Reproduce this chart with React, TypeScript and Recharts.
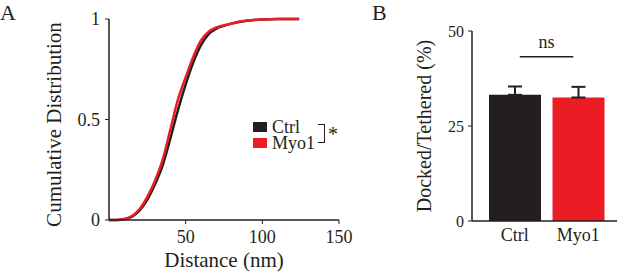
import React from 'react';
import {
  LineChart,
  Line,
  BarChart,
  Bar,
  Cell,
  ErrorBar,
  XAxis,
  YAxis,
  Legend,
  ReferenceLine,
} from 'recharts';

// Panel A: cumulative distribution of vesicle distance
const distanceNm = [0, 5, 10, 15, 20, 25, 30, 35, 40, 45, 50, 55, 60, 65, 70, 75, 80, 90, 100, 110, 124];
const ctrlCdf = [0, 0, 0.004, 0.017, 0.048, 0.102, 0.178, 0.272, 0.405, 0.548, 0.675, 0.785, 0.87, 0.925, 0.952, 0.966, 0.977, 0.991, 0.998, 1, 1];
const myo1Cdf = [0, 0, 0.005, 0.02, 0.055, 0.115, 0.195, 0.3, 0.45, 0.6, 0.71, 0.812, 0.893, 0.937, 0.958, 0.969, 0.978, 0.992, 0.998, 1, 1];
const xTicksA = [50, 100, 150];
const yTicksA = [0, 0.5, 1];

// Panel B: docked / tethered ratio
const groups = ['Ctrl', 'Myo1'];
const dockedMean = [33.2, 32.5];
const dockedSem = [2.2, 2.8];
const yTicksB = [0, 25, 50];
const nsLevel = 43.2;

const BLACK = '#231f20';
const RED = '#ec1c24';
const FONT = '"Liberation Serif", "Times New Roman", serif';

const cdfData = distanceNm.map((d, i) => ({ d, ctrl: ctrlCdf[i], myo1: myo1Cdf[i] }));
// upper half of the SEM only, as in the figure
const barData = groups.map((g, i) => ({ group: g, mean: dockedMean[i], sem: [0, dockedSem[i]] }));
const barColors = [BLACK, RED];

const axisLine = { stroke: BLACK, strokeWidth: 1.5 };

const renderLegend = (props: any) => {
  const payload = props.payload || [];
  return (
    <div style={{ position: 'relative', fontFamily: FONT, fontSize: 18, color: BLACK, width: 100 }}>
      {payload.map((entry: any) => (
        <div key={entry.value} style={{ display: 'flex', alignItems: 'center', height: 16, lineHeight: '16px' }}>
          <span style={{ display: 'inline-block', width: 14, height: 10, background: entry.color, marginRight: 5 }} />
          <span>{entry.value}</span>
        </div>
      ))}
      <div
        style={{
          position: 'absolute',
          left: 65,
          top: 5,
          width: 6,
          height: 17,
          borderTop: `1.5px solid ${BLACK}`,
          borderRight: `1.5px solid ${BLACK}`,
          borderBottom: `1.5px solid ${BLACK}`,
        }}
      />
      <span style={{ position: 'absolute', left: 75, top: 5, fontSize: 20, lineHeight: '20px' }}>*</span>
    </div>
  );
};

const panelLetter = (letter: string, left: number) => (
  <div
    style={{
      position: 'absolute',
      left,
      top: 2,
      fontFamily: FONT,
      fontSize: 22,
      lineHeight: '22px',
      color: BLACK,
    }}
  >
    {letter}
  </div>
);

export default function App() {
  return (
    <div style={{ position: 'absolute', left: 0, top: 0, width: 617, height: 272, background: '#fff', overflow: 'hidden' }}>
      {panelLetter('A', 0)}
      {panelLetter('B', 372)}

      <div style={{ position: 'absolute', left: 0, top: 0 }}>
        <LineChart width={360} height={272} data={cdfData} margin={{ top: 19, right: 21, bottom: 22, left: 49 }}>
          <XAxis
            dataKey="d"
            type="number"
            domain={[0, 150]}
            ticks={xTicksA}
            height={30}
            axisLine={axisLine}
            tickLine={{ stroke: BLACK }}
            tickSize={4}
            tickMargin={6}
            tick={{ fill: BLACK, fontSize: 18, fontFamily: FONT }}
            label={{ value: 'Distance (nm)', position: 'bottom', offset: 2, fill: BLACK, fontSize: 21, fontFamily: FONT }}
          />
          <YAxis
            type="number"
            domain={[0, 1]}
            ticks={yTicksA}
            width={60}
            axisLine={axisLine}
            tickLine={{ stroke: BLACK }}
            tickSize={4}
            tickMargin={5}
            tick={{ fill: BLACK, fontSize: 18, fontFamily: FONT }}
            label={{
              value: 'Cumulative Distribution',
              angle: -90,
              position: 'center',
              dx: -25,
              dy: 5,
              fill: BLACK,
              fontSize: 21,
              fontFamily: FONT,
            }}
          />
          <Legend
            layout="vertical"
            align="center"
            verticalAlign="middle"
            content={renderLegend}
            wrapperStyle={{ left: 253, top: 119, width: 100 }}
          />
          <Line
            name="Ctrl"
            type="monotone"
            dataKey="ctrl"
            stroke={BLACK}
            strokeWidth={2.5}
            dot={false}
            activeDot={false}
            isAnimationActive={false}
          />
          <Line
            name="Myo1"
            type="monotone"
            dataKey="myo1"
            stroke={RED}
            strokeWidth={2.5}
            dot={false}
            activeDot={false}
            isAnimationActive={false}
          />
        </LineChart>
      </div>

      <div style={{ position: 'absolute', left: 360, top: 0 }}>
        <BarChart width={257} height={272} data={barData} margin={{ top: 31, right: 0, bottom: 21, left: 52 }}>
          <XAxis
            dataKey="group"
            height={30}
            padding={{ left: 11, right: 7 }}
            axisLine={axisLine}
            tickLine={false}
            tickSize={0}
            tickMargin={7}
            tick={{ fill: BLACK, fontSize: 18, fontFamily: FONT }}
          />
          <YAxis
            type="number"
            domain={[0, 50]}
            ticks={yTicksB}
            width={60}
            axisLine={axisLine}
            tickLine={{ stroke: BLACK }}
            tickSize={4}
            tickMargin={4}
            tick={{ fill: BLACK, fontSize: 16, fontFamily: FONT }}
            label={{
              value: 'Docked/Tethered (%)',
              angle: -90,
              position: 'center',
              dx: -18,
              fill: BLACK,
              fontSize: 20,
              fontFamily: FONT,
            }}
          />
          <Bar dataKey="mean" barSize={52} isAnimationActive={false}>
            {barData.map((d, i) => (
              <Cell key={d.group} fill={barColors[i]} />
            ))}
            <ErrorBar dataKey="sem" width={7} stroke={BLACK} strokeWidth={2} isAnimationActive={false} />
          </Bar>
          <ReferenceLine
            segment={[
              { x: 'Ctrl', y: nsLevel },
              { x: 'Myo1', y: nsLevel },
            ]}
            stroke={BLACK}
            strokeWidth={1.5}
            shape={(p: any) => <line x1={p.x1 + 5} y1={p.y1} x2={p.x2 - 5} y2={p.y2} stroke={BLACK} strokeWidth={1.5} />}
            label={{ value: 'ns', position: 'top', offset: 9, fill: BLACK, fontSize: 18, fontFamily: FONT }}
          />
        </BarChart>
      </div>
    </div>
  );
}
